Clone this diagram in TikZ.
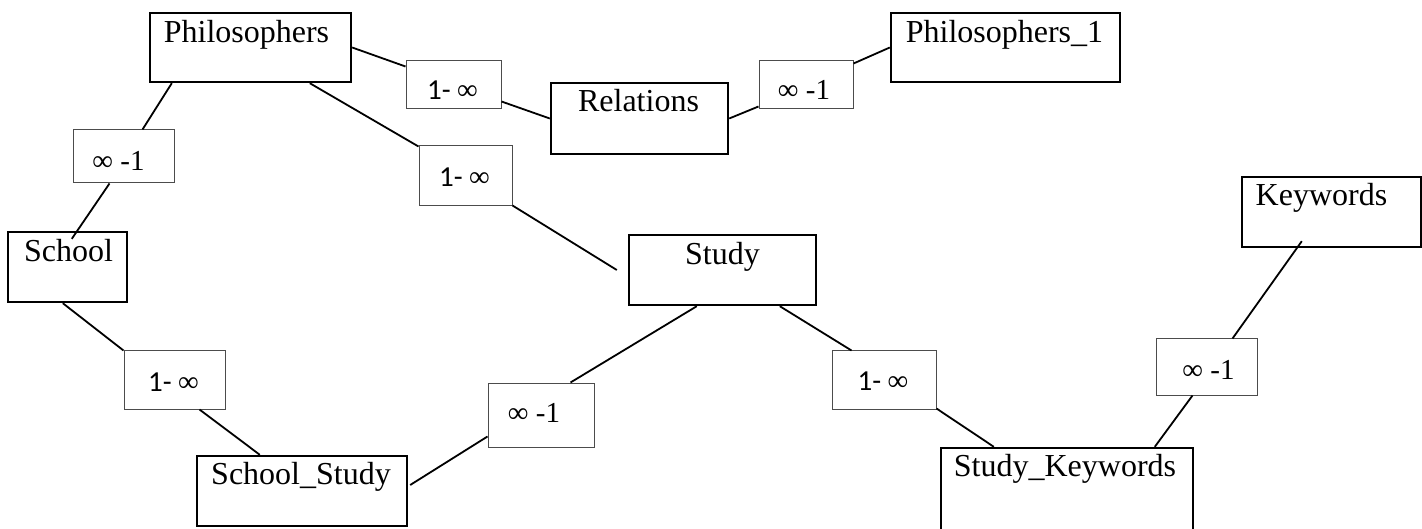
\documentclass[tikz,border=0pt]{standalone}
\usepackage{fontspec}
\setmainfont{Liberation Serif}
\newfontfamily\calfont{Carlito}
\usetikzlibrary{calc}
\tikzset{
  entity/.style={draw=black, line width=2.4pt, inner sep=0pt, fill=none},
  etext/.style={anchor=base, inner sep=0pt, font=\fontsize{32}{36}\selectfont},
  card/.style={draw=black!70, line width=1pt, inner sep=0pt},
  ctext/.style={anchor=base, inner sep=0pt, font=\fontsize{29}{33}\selectfont},
  conn/.style={draw=black, line width=1.8pt}
}
\begin{document}
\begin{tikzpicture}[x=1pt,y=-1pt]
\useasboundingbox (0,0) rectangle (1422,529);
\clip (0,0) rectangle (1422,529);
% entities
\node[entity, minimum width=201pt, minimum height=69pt] (phil) at (250.5,47.5) {};
\node[entity, minimum width=177pt, minimum height=71pt] (rel) at (639.5,118.5) {};
\node[entity, minimum width=229pt, minimum height=69pt] (phil1) at (1005.5,47.5) {};
\node[entity, minimum width=119pt, minimum height=70pt] (school) at (67.5,267) {};
\node[entity, minimum width=187pt, minimum height=70pt] (study) at (722.5,270) {};
\node[entity, minimum width=210pt, minimum height=70pt] (schst) at (302,491) {};
\node[entity, minimum width=252pt, minimum height=100pt] (stkw) at (1067,498) {};
\node[entity, minimum width=179pt, minimum height=70pt] (kw) at (1331.5,212) {};
\node[etext] (philT) at ($(phil.north)+(-4,31)$) {Philosophers};
\node[etext] (relT) at ($(rel.north)+(-1,30)$) {Relations};
\node[etext] (phil1T) at ($(phil1.north)+(-1,31)$) {Philosophers\_1};
\node[etext] (schoolT) at ($(school.north)+(1,31)$) {School};
\node[etext] (studyT) at ($(study.north)+(0,31)$) {Study};
\node[etext] (schstT) at ($(schst.north)+(-1,30)$) {School\_Study};
\node[etext] (stkwT) at ($(stkw.north)+(-2,30)$) {Study\_Keywords};
\node[etext] (kwT) at ($(kw.north)+(-10,30)$) {Keywords};
% cardinality cards
\node[card, minimum width=95pt, minimum height=48pt] (c1) at (453.5,85) {};
\node[card, minimum width=94pt, minimum height=48pt] (c2) at (806,85) {};
\node[card, minimum width=101pt, minimum height=53pt] (c3) at (123.5,156.5) {};
\node[card, minimum width=93pt, minimum height=60pt] (c4) at (465.5,176) {};
\node[card, minimum width=101pt, minimum height=58pt] (c5) at (174.5,380) {};
\node[card, minimum width=106pt, minimum height=64pt] (c6) at (541,415) {};
\node[card, minimum width=104pt, minimum height=58pt] (c7) at (884,380) {};
\node[card, minimum width=101pt, minimum height=56pt] (c8) at (1206.5,367) {};
\node[ctext] (c1T) at ($(c1.north)+(-1,39)$) {{\calfont 1- }∞};
\node[ctext] (c2T) at ($(c2.north)+(-2,39)$) {∞ -1};
\node[ctext] (c3T) at ($(c3.north)+(-5,41)$) {∞ -1};
\node[ctext] (c4T) at ($(c4.north)+(-1,41)$) {{\calfont 1- }∞};
\node[ctext] (c5T) at ($(c5.north)+(-1,41)$) {{\calfont 1- }∞};
\node[ctext] (c6T) at ($(c6.north)+(-7,40)$) {∞ -1};
\node[ctext] (c7T) at ($(c7.north)+(-1,40)$) {{\calfont 1- }∞};
\node[ctext] (c8T) at ($(c8.north)+(2,41)$) {∞ -1};
% connectors
\draw[conn] (phil.east) -- ($(c1.north west)+(0,6)$);
\draw[conn] ($(c1.south east)+(0,-8)$) -- (rel.west);
\draw[conn] (rel.east) -- ($(c2.south west)+(0,-3)$);
\draw[conn] ($(c2.north east)+(0,3)$) -- (phil1.west);
\draw[conn] ($(phil.south west)+(23,0)$) -- ($(c3.north west)+(70,0)$);
\draw[conn] ($(c3.south west)+(37,0)$) -- ($(school.north west)+(65,8)$);
\draw[conn] ($(phil.south west)+(161,0)$) -- ($(c4.north west)+(0,1)$);
\coordinate (studyIn) at ($(study.west)+(-11,0)$);
\draw[conn] ($(c4.south east)+(0,-1)$) -- (studyIn);
\draw[conn] ($(school.south west)+(56,0)$) -- (c5.north west);
\draw[conn] ($(c5.south west)+(76,0)$) -- ($(schst.north west)+(64,0)$);
\draw[conn] ($(study.south west)+(69,0)$) -- ($(c6.north west)+(83,0)$);
\draw[conn] ($(c6.south west)+(0,-11)$) -- ($(schst.east)+(2,-6)$);
\draw[conn] ($(study.south west)+(152,0)$) -- ($(c7.north west)+(20,0)$);
\draw[conn] ($(c7.south east)+(0,-1)$) -- ($(stkw.north west)+(54,0)$);
\draw[conn] ($(stkw.north west)+(215,0)$) -- ($(c8.south west)+(37,0)$);
\draw[conn] ($(c8.north west)+(77,0)$) -- ($(kw.south west)+(61,-7)$);
\end{tikzpicture}
\end{document}
